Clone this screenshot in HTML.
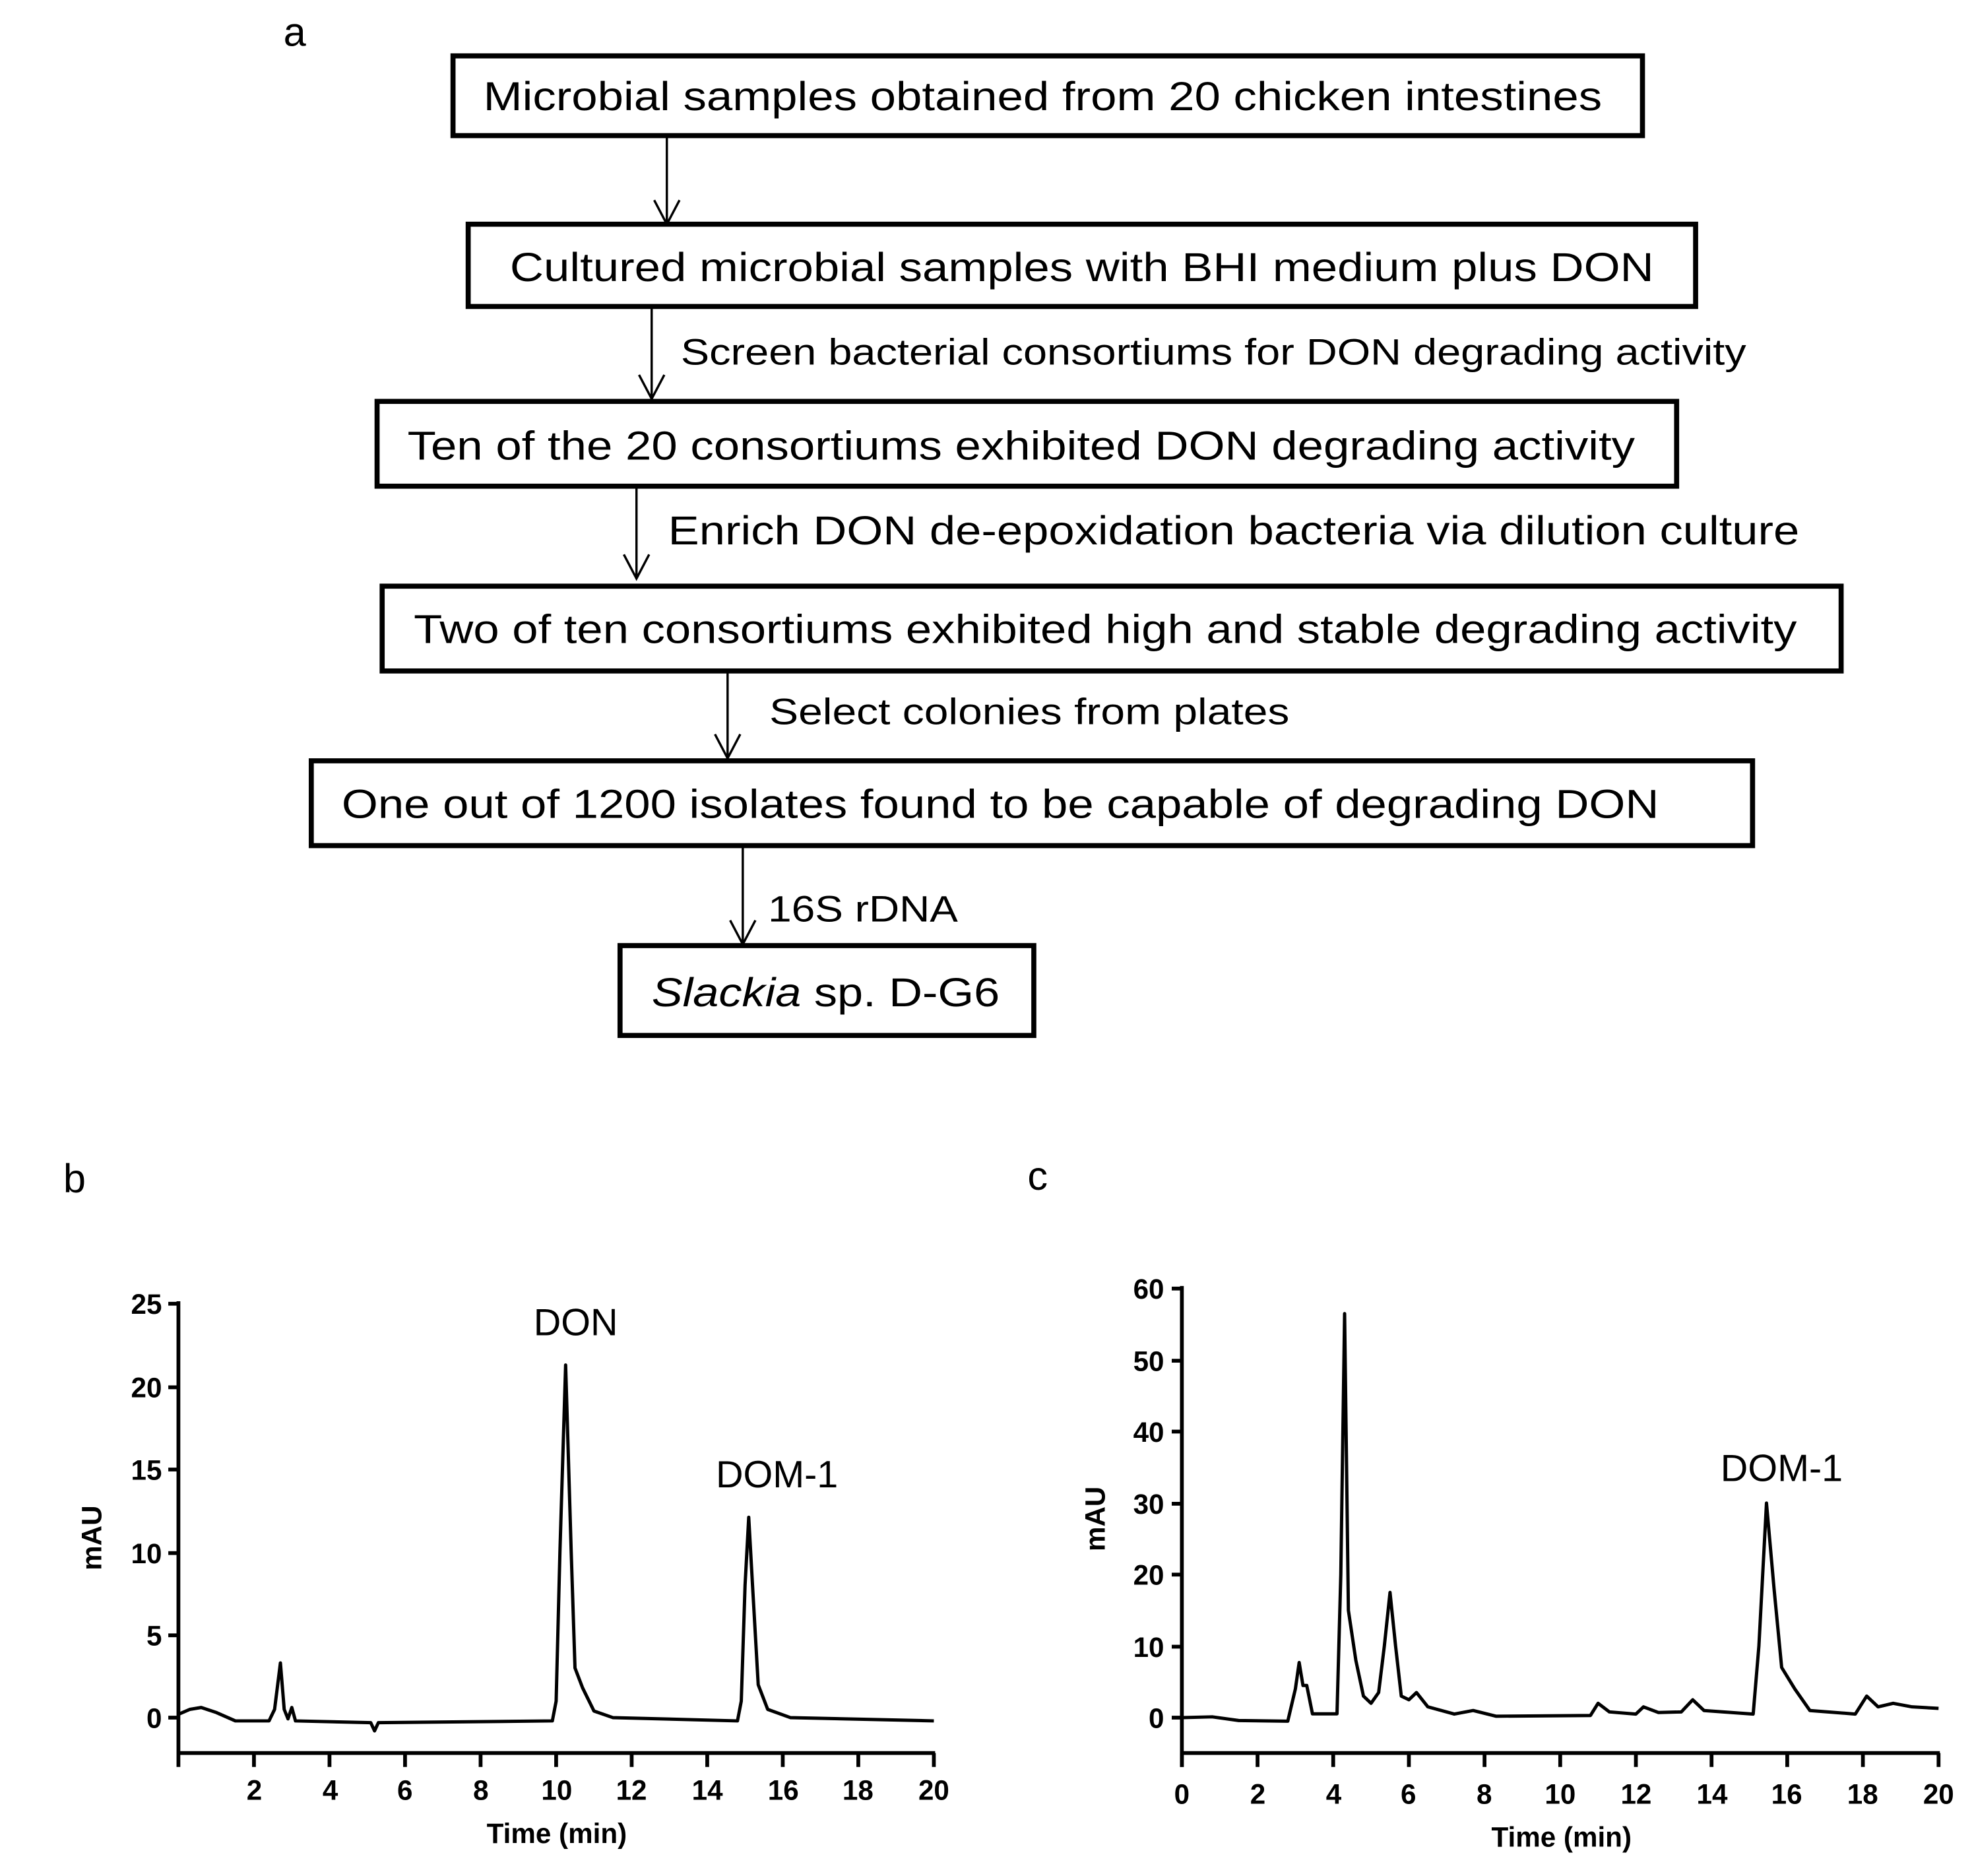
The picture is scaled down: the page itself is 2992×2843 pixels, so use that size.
<!DOCTYPE html>
<html><head><meta charset="utf-8"><style>
html,body{margin:0;padding:0;background:#fff}
svg{display:block}
text{font-family:"Liberation Sans",Arial,sans-serif;fill:#000}
</style></head><body>
<svg width="2992" height="2843" viewBox="0 0 1560 1482" xmlns="http://www.w3.org/2000/svg">
<defs><marker id="ah" markerWidth="20" markerHeight="20" refX="10" refY="19" orient="auto" markerUnits="userSpaceOnUse"><path d="M2,3 L10,19 L18,3" fill="none" stroke="#000" stroke-width="1.8"/></marker></defs>
<text x="224" y="36" font-size="32">a</text>
<g fill="none" stroke="#000" stroke-width="4">
<rect x="358" y="44" width="940" height="63"/>
<rect x="370" y="177" width="970" height="65"/>
<rect x="298" y="317" width="1027" height="67"/>
<rect x="302" y="463" width="1153" height="67"/>
<rect x="246" y="601" width="1139" height="67"/>
<rect x="490" y="747" width="327" height="71"/>
</g>
<g stroke="#000" stroke-width="1.8" fill="none">
<line x1="527" y1="107" x2="527" y2="177"/><path d="M517,158 L527,177 L537,158"/>
<line x1="515" y1="242" x2="515" y2="315"/><path d="M505,296 L515,315 L525,296"/>
<line x1="503" y1="384" x2="503" y2="457"/><path d="M493,438 L503,457 L513,438"/>
<line x1="575" y1="530" x2="575" y2="599"/><path d="M565,580 L575,599 L585,580"/>
<line x1="587" y1="668" x2="587" y2="746"/><path d="M577,727 L587,746 L597,727"/>
</g>
<text x="382" y="87" font-size="32" textLength="884" lengthAdjust="spacingAndGlyphs">Microbial samples obtained from 20 chicken intestines</text>
<text x="403" y="222" font-size="32" textLength="904" lengthAdjust="spacingAndGlyphs">Cultured microbial samples with BHI medium plus DON</text>
<text x="538" y="288" font-size="29" textLength="842" lengthAdjust="spacingAndGlyphs">Screen bacterial consortiums for DON degrading activity</text>
<text x="322" y="363" font-size="32" textLength="970" lengthAdjust="spacingAndGlyphs">Ten of the 20 consortiums exhibited DON degrading activity</text>
<text x="528" y="430" font-size="32" textLength="894" lengthAdjust="spacingAndGlyphs">Enrich DON de-epoxidation bacteria via dilution culture</text>
<text x="327" y="508" font-size="32" textLength="1093" lengthAdjust="spacingAndGlyphs">Two of ten consortiums exhibited high and stable degrading activity</text>
<text x="608" y="572" font-size="29" textLength="411" lengthAdjust="spacingAndGlyphs">Select  colonies from plates</text>
<text x="270" y="646" font-size="32" textLength="1041" lengthAdjust="spacingAndGlyphs">One out of 1200 isolates found to be capable of degrading DON</text>
<text x="607" y="728" font-size="29" textLength="150" lengthAdjust="spacingAndGlyphs">16S rDNA</text>
<text x="515" y="795" font-size="32" textLength="275" lengthAdjust="spacingAndGlyphs"><tspan font-style="italic">Slackia</tspan> sp. D-G6</text>

<!-- panel b -->
<text x="50" y="942" font-size="32">b</text>
<g stroke="#000" stroke-width="3" fill="none">
<line x1="141" y1="1028" x2="141" y2="1396"/>
<line x1="140" y1="1385" x2="739" y2="1385"/>
<path d="M133,1030H141M133,1096H141M133,1161H141M133,1227H141M133,1292H141M133,1357H141"/>
<path d="M200.7,1385V1396M260.4,1385V1396M320.1,1385V1396M379.8,1385V1396M439.5,1385V1396M499.2,1385V1396M558.9,1385V1396M618.6,1385V1396M678.3,1385V1396M738,1385V1396"/>
</g>
<g font-size="22" font-weight="bold" text-anchor="end">
<text x="128" y="1038">25</text><text x="128" y="1104">20</text><text x="128" y="1169">15</text><text x="128" y="1235">10</text><text x="128" y="1300">5</text><text x="128" y="1365">0</text>
</g>
<g font-size="22" font-weight="bold" text-anchor="middle">
<text x="201" y="1422">2</text><text x="261" y="1422">4</text><text x="320" y="1422">6</text><text x="380" y="1422">8</text><text x="440" y="1422">10</text><text x="499" y="1422">12</text><text x="559" y="1422">14</text><text x="619" y="1422">16</text><text x="678" y="1422">18</text><text x="738" y="1422">20</text>
<text x="440" y="1456">Time (min)</text>
<text transform="translate(80,1215) rotate(-90)">mAU</text>
</g>
<text x="455" y="1055" font-size="30" text-anchor="middle">DON</text>
<text x="614" y="1175" font-size="30" text-anchor="middle">DOM-1</text>
<polyline fill="none" stroke="#000" stroke-width="2.6" stroke-linejoin="round" points="141,1354.4 150,1350.5 159,1349 171,1353 186,1359.6 212.6,1359.6 217,1350.5 221.6,1313.8 224.6,1350.5 227.6,1358 230.6,1349 233.5,1359.6 293,1361 296,1367.5 299,1361 436.5,1359.6 439.5,1344 442.5,1226 447,1078.4 451.4,1226 454.4,1317.8 460.4,1333.5 469.4,1351.8 484.3,1357 582.8,1359.6 585.8,1344 588.8,1252.4 591.7,1198.7 594.7,1252.4 599.2,1331 606.7,1350.5 624.6,1357 738,1359.6"/>

<!-- panel c -->
<text x="812" y="940" font-size="32">c</text>
<g stroke="#000" stroke-width="3" fill="none">
<line x1="934" y1="1016" x2="934" y2="1396"/>
<line x1="933" y1="1385" x2="1533" y2="1385"/>
<path d="M926,1018H934M926,1075H934M926,1131H934M926,1188H934M926,1244H934M926,1301H934M926,1357H934"/>
<path d="M934,1385V1396M993.8,1385V1396M1053.6,1385V1396M1113.4,1385V1396M1173.2,1385V1396M1233,1385V1396M1292.8,1385V1396M1352.6,1385V1396M1412.4,1385V1396M1472.2,1385V1396M1532,1385V1396"/>
</g>
<g font-size="22" font-weight="bold" text-anchor="end">
<text x="920" y="1026">60</text><text x="920" y="1083">50</text><text x="920" y="1139">40</text><text x="920" y="1196">30</text><text x="920" y="1252">20</text><text x="920" y="1309">10</text><text x="920" y="1365">0</text>
</g>
<g font-size="22" font-weight="bold" text-anchor="middle">
<text x="934" y="1425">0</text><text x="994" y="1425">2</text><text x="1054" y="1425">4</text><text x="1113" y="1425">6</text><text x="1173" y="1425">8</text><text x="1233" y="1425">10</text><text x="1293" y="1425">12</text><text x="1353" y="1425">14</text><text x="1412" y="1425">16</text><text x="1472" y="1425">18</text><text x="1532" y="1425">20</text>
<text x="1234" y="1459">Time (min)</text>
<text transform="translate(873,1200) rotate(-90)">mAU</text>
</g>
<text x="1408" y="1170" font-size="30" text-anchor="middle">DOM-1</text>
<polyline fill="none" stroke="#000" stroke-width="2.6" stroke-linejoin="round" points="934,1357 958,1356.4 978.9,1359.3 1017.7,1359.8 1023.7,1334.4 1026.7,1313.5 1029.7,1331.6 1032.7,1331.6 1037.2,1354 1056.6,1354 1059.6,1244 1062.6,1037.8 1065.6,1272.3 1071.5,1311.8 1077.5,1340 1083.5,1345.7 1089.5,1337.2 1094,1300.5 1098.5,1258.1 1102.9,1300.5 1107.4,1340 1113.4,1342.9 1119.4,1337.2 1128.4,1348.5 1149.3,1354.2 1164.2,1351.4 1182.2,1355.9 1256.9,1355.3 1262.9,1345.7 1271.9,1352.5 1292.8,1354.2 1298.8,1348.5 1310.7,1353 1328.7,1352.5 1337.7,1342.9 1346.6,1351.4 1385.5,1354.2 1390,1300.5 1396,1187.5 1402,1255.3 1408,1317.4 1418.4,1334.4 1430.3,1351.4 1466.2,1354.2 1475.2,1340 1484.2,1348.5 1496.1,1345.7 1511,1348.5 1532,1349.7"/>
</svg>
</body></html>
